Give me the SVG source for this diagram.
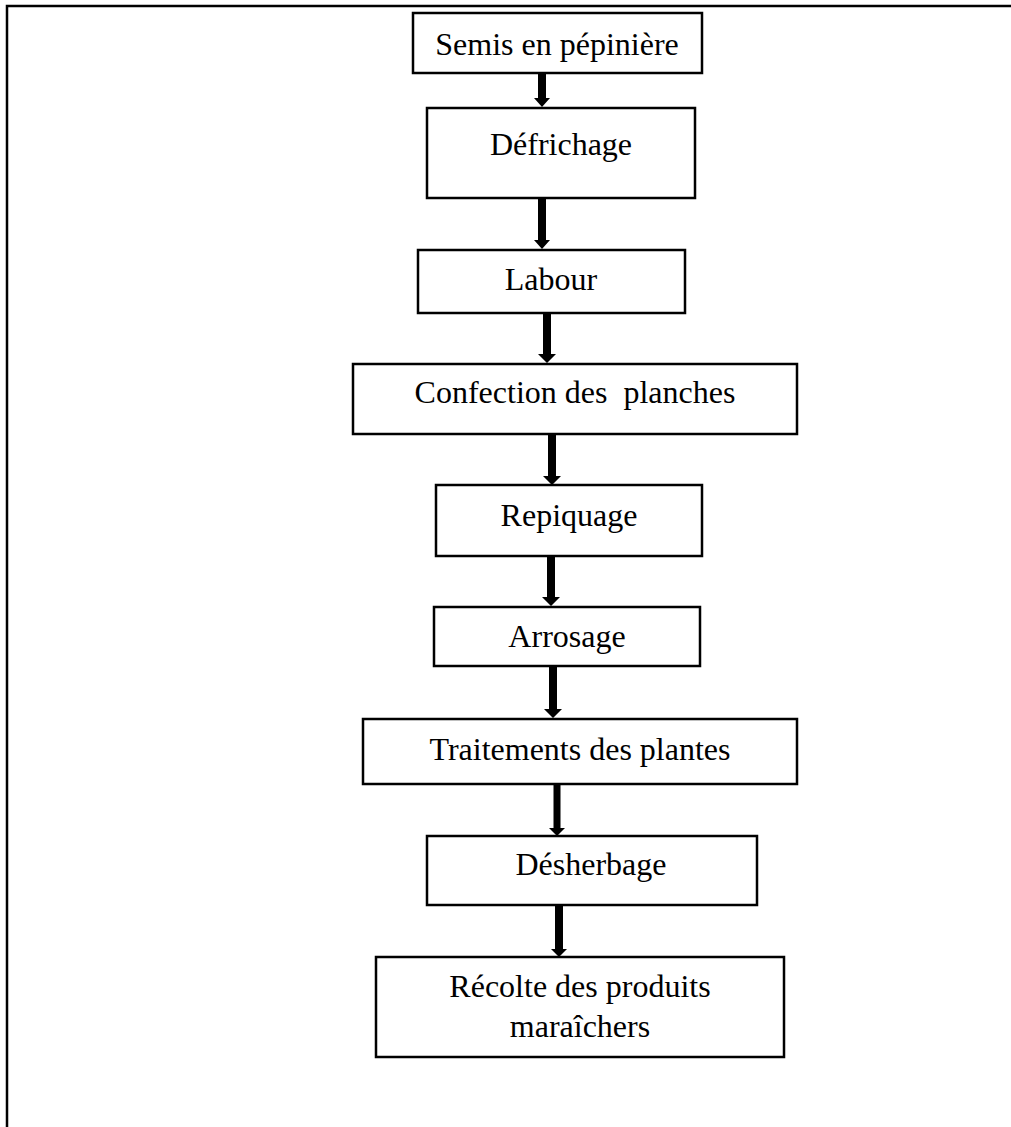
<svg xmlns="http://www.w3.org/2000/svg" width="1011" height="1127" viewBox="0 0 1011 1127">
<style>
.box{fill:#fff;stroke:#000;stroke-width:2.5}
.lbl{font-family:"Liberation Serif","Times New Roman",serif;font-size:32px;fill:#000;text-anchor:middle;white-space:pre}
.arr{fill:#000;stroke:none}
.frame{stroke:#000;stroke-width:2.5;fill:none}
</style>
<rect width="1011" height="1127" fill="#fff"/>
<g id="frame"><path class="frame" d="M7 1127 V6 H1011"/></g>
<g id="connectors">
<path class="arr" d="M538 73 H546 V98 H550 L542 107 L534 98 H538 Z"/>
<path class="arr" d="M538 198 H546 V240 H550 L542 249 L534 240 H538 Z"/>
<path class="arr" d="M543 313 H551 V354 H556 L547 363 L538 354 H543 Z"/>
<path class="arr" d="M548 434 H556 V476 H561 L552 485 L543 476 H548 Z"/>
<path class="arr" d="M547 556 H555 V597 H560 L551 606 L542 597 H547 Z"/>
<path class="arr" d="M549 666 H557 V709 H562 L553 718 L544 709 H549 Z"/>
<path class="arr" d="M553.5 784 H560.5 V828 H565 L557 836 L549 828 H553.5 Z"/>
<path class="arr" d="M555 905 H563 V949 H567 L559 957 L551 949 H555 Z"/>
</g>
<g id="n1"><rect class="box" x="413" y="13" width="289" height="60"/><text class="lbl" x="557" y="55">Semis en pépinière</text></g>
<g id="n2"><rect class="box" x="427" y="108" width="268" height="90"/><text class="lbl" x="561" y="155">Défrichage</text></g>
<g id="n3"><rect class="box" x="418" y="250" width="267" height="63"/><text class="lbl" x="551" y="290">Labour</text></g>
<g id="n4"><rect class="box" x="353" y="364" width="444" height="70"/><text class="lbl" x="575" y="403">Confection des  planches</text></g>
<g id="n5"><rect class="box" x="436" y="485" width="266" height="71"/><text class="lbl" x="569" y="526">Repiquage</text></g>
<g id="n6"><rect class="box" x="434" y="607" width="266" height="59"/><text class="lbl" x="567" y="647">Arrosage</text></g>
<g id="n7"><rect class="box" x="363" y="719" width="434" height="65"/><text class="lbl" x="580" y="760">Traitements des plantes</text></g>
<g id="n8"><rect class="box" x="427" y="836" width="330" height="69"/><text class="lbl" x="591" y="875">Désherbage</text></g>
<g id="n9"><rect class="box" x="376" y="957" width="408" height="100"/><text class="lbl" x="580" y="997">Récolte des produits</text><text class="lbl" x="580" y="1037">maraîchers</text></g>
</svg>
